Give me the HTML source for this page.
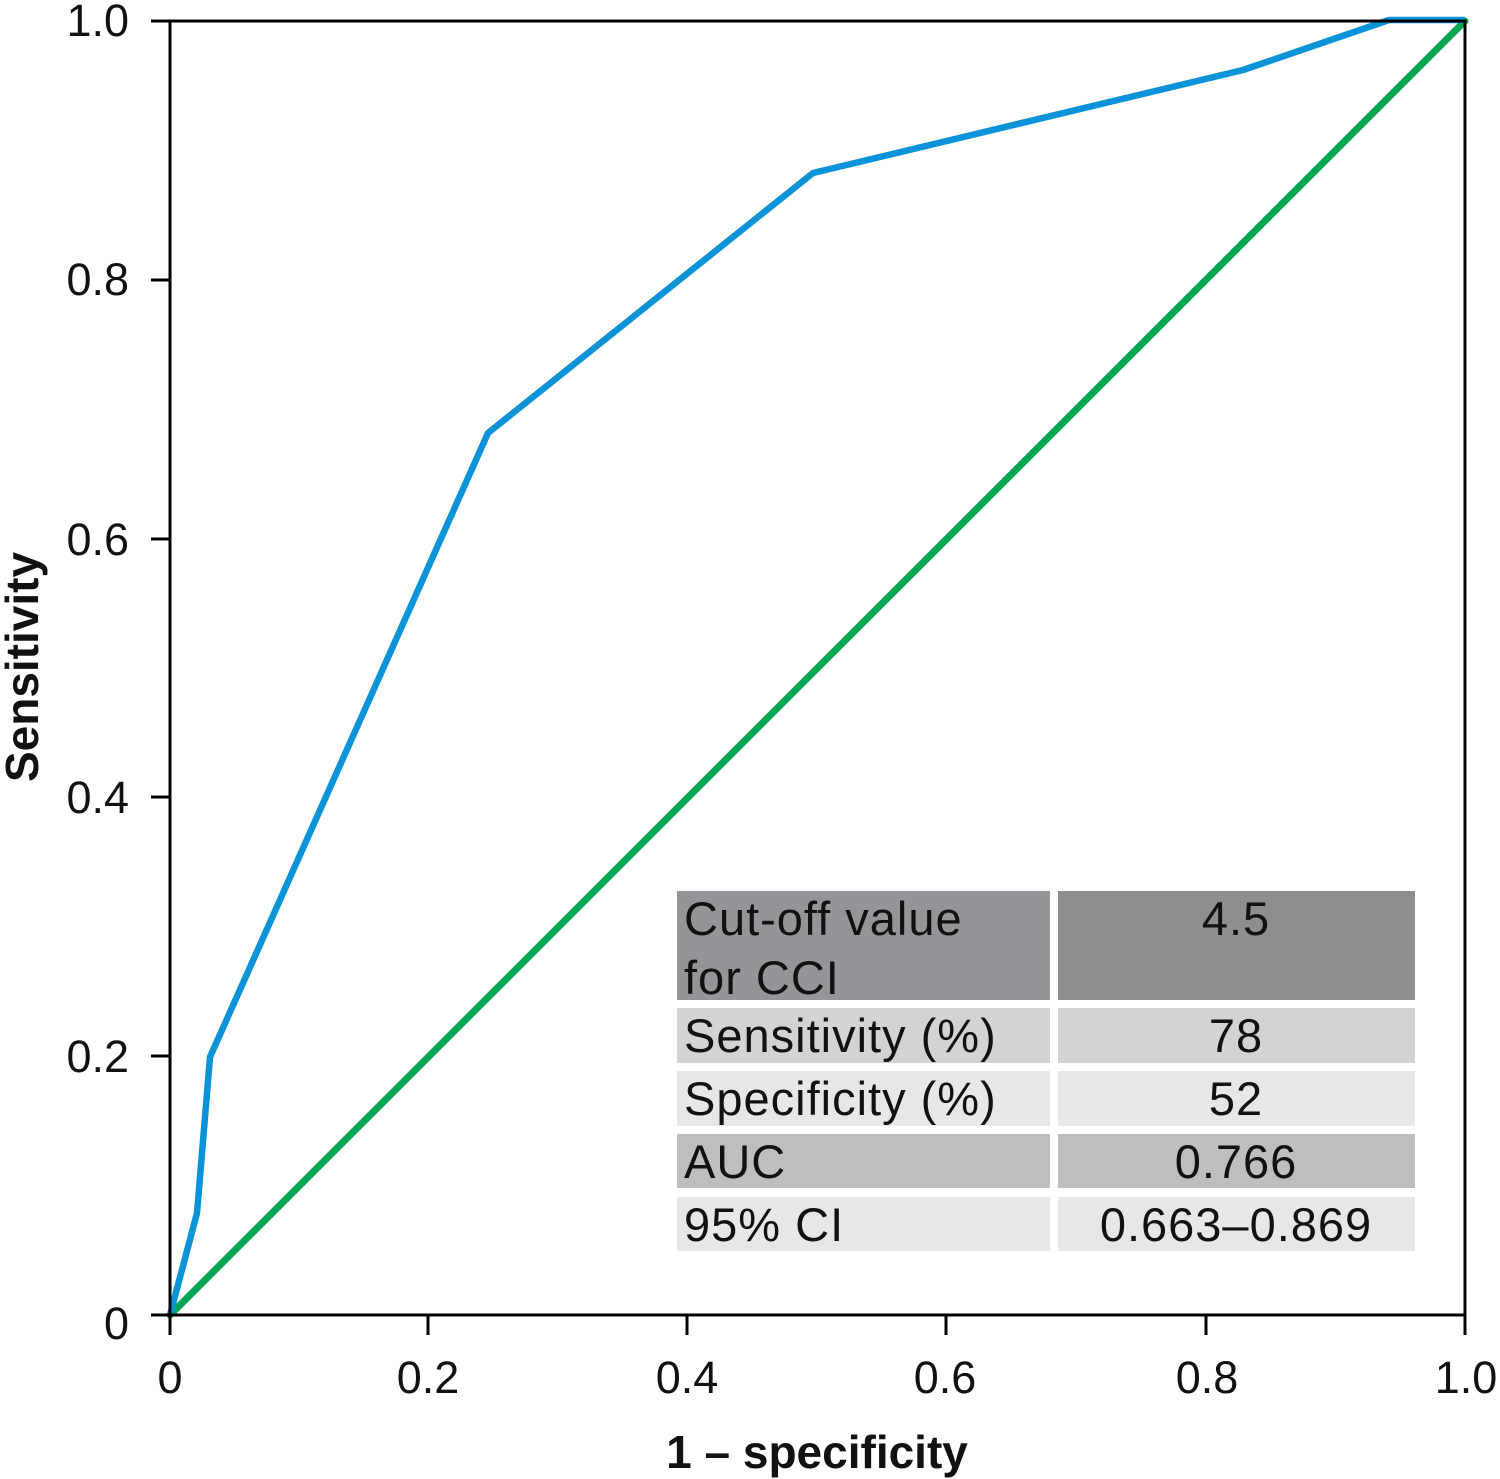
<!DOCTYPE html>
<html>
<head>
<meta charset="utf-8">
<style>
  html, body { margin: 0; padding: 0; background: #ffffff; }
  body { width: 1500px; height: 1479px; overflow: hidden; }
  svg { display: block; }
  text { font-family: "Liberation Sans", "DejaVu Sans", sans-serif; fill: #111; }
</style>
</head>
<body>
<svg width="1500" height="1479" viewBox="0 0 1500 1479" xmlns="http://www.w3.org/2000/svg">
  <rect x="0" y="0" width="1500" height="1479" fill="#ffffff"/>

  <!-- Table -->
  <rect x="677" y="891" width="373" height="109" fill="#939598"/>
  <rect x="1058" y="891" width="357" height="109" fill="#8d8e90"/>
  <rect x="677" y="1008" width="373" height="55" fill="#d1d3d4"/>
  <rect x="1058" y="1008" width="357" height="55" fill="#d1d3d4"/>
  <rect x="677" y="1071" width="373" height="55" fill="#e6e7e8"/>
  <rect x="1058" y="1071" width="357" height="55" fill="#e6e7e8"/>
  <rect x="677" y="1134" width="373" height="54" fill="#bcbec0"/>
  <rect x="1058" y="1134" width="357" height="54" fill="#bcbec0"/>
  <rect x="677" y="1197" width="373" height="54" fill="#e6e7e8"/>
  <rect x="1058" y="1197" width="357" height="54" fill="#e6e7e8"/>

  <g font-size="47" letter-spacing="1">
    <text x="684" y="935">Cut-off value</text>
    <text x="684" y="994">for CCI</text>
    <text x="684" y="1052">Sensitivity (%)</text>
    <text x="684" y="1115">Specificity (%)</text>
    <text x="684" y="1178">AUC</text>
    <text x="684" y="1241">95% CI</text>
    <g text-anchor="middle">
      <text x="1236" y="935">4.5</text>
      <text x="1236" y="1052">78</text>
      <text x="1236" y="1115">52</text>
      <text x="1236" y="1178">0.766</text>
      <text x="1236" y="1241">0.663–0.869</text>
    </g>
  </g>

  <!-- Diagonal reference line -->
  <line x1="170" y1="1315" x2="1465" y2="21" stroke="#00a651" stroke-width="7" stroke-linecap="round"/>

  <!-- ROC curve -->
  <polyline points="170,1315 197,1213 210,1057 488,433 813,173 1243,70 1389,20 1465,20"
            fill="none" stroke="#0a93d8" stroke-width="6.5" stroke-linejoin="round"/>

  <!-- Axes frame -->
  <g stroke="#000" stroke-width="3" fill="none">
    <line x1="151" y1="21" x2="1466" y2="21"/>
    <line x1="151" y1="1315" x2="1466" y2="1315"/>
    <line x1="170" y1="20" x2="170" y2="1335"/>
    <line x1="1465" y1="20" x2="1465" y2="1335"/>
    <!-- y ticks -->
    <line x1="151" y1="280" x2="170" y2="280"/>
    <line x1="151" y1="539" x2="170" y2="539"/>
    <line x1="151" y1="797" x2="170" y2="797"/>
    <line x1="151" y1="1056" x2="170" y2="1056"/>
    <!-- x ticks -->
    <line x1="428" y1="1315" x2="428" y2="1335"/>
    <line x1="687" y1="1315" x2="687" y2="1335"/>
    <line x1="946" y1="1315" x2="946" y2="1335"/>
    <line x1="1206" y1="1315" x2="1206" y2="1335"/>
  </g>

  <!-- Y tick labels -->
  <g font-size="45" text-anchor="end">
    <text x="129" y="36">1.0</text>
    <text x="129" y="295">0.8</text>
    <text x="129" y="555">0.6</text>
    <text x="129" y="813">0.4</text>
    <text x="129" y="1072">0.2</text>
    <text x="129" y="1339">0</text>
  </g>

  <!-- X tick labels -->
  <g font-size="45" text-anchor="middle">
    <text x="170" y="1393">0</text>
    <text x="428" y="1393">0.2</text>
    <text x="687" y="1393">0.4</text>
    <text x="945" y="1393">0.6</text>
    <text x="1207" y="1393">0.8</text>
    <text x="1466" y="1393">1.0</text>
  </g>

  <!-- Axis titles -->
  <text x="817" y="1468" font-size="46" font-weight="bold" text-anchor="middle">1 – specificity</text>
  <text transform="translate(38,667) rotate(-90)" font-size="46" font-weight="bold" text-anchor="middle">Sensitivity</text>
</svg>
</body>
</html>
